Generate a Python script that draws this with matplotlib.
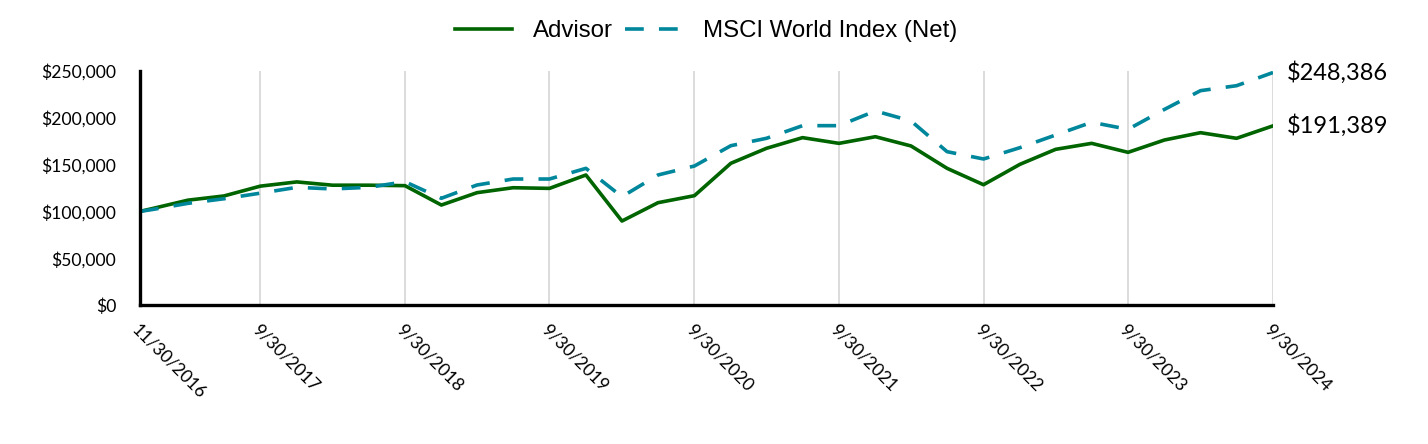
import matplotlib
matplotlib.use("Agg")
import matplotlib.pyplot as plt
import pandas as pd

# ---- data ----
start_date = "2016-11-30"
quarter_start = "2016-12-31"
quarter_end = "2024-09-30"
advisor = [100000, 103000, 112000, 116500, 127000, 131500, 128000, 128000, 127500,
           106800, 120000, 125300, 124600, 138900, 89700, 109300, 116800,
           151400, 167400, 178800, 172700, 179800, 169900, 146000, 128500,
           150300, 166300, 172700, 163100, 176300, 184100, 178100, 191389]
msci = [100000, 102000, 108600, 113500, 119500, 125700, 124000, 125700, 131700,
        114000, 128200, 134600, 134600, 146000, 115700, 138900, 148500,
        170200, 178100, 191600, 191600, 207300, 196600, 163800, 156000,
        168100, 181600, 195200, 187700, 209000, 229000, 234300, 248386]
series_names = ["Advisor", "MSCI World Index (Net)"]
tick_dates = ["2016-11-30", "2017-09-30", "2018-09-30", "2019-09-30", "2020-09-30",
              "2021-09-30", "2022-09-30", "2023-09-30", "2024-09-30"]
y_ticks = [0, 50000, 100000, 150000, 200000, 250000]

dates = [pd.Timestamp(start_date)] + list(pd.date_range(quarter_start, quarter_end, freq="QE"))
tdates = [pd.Timestamp(d) for d in tick_dates]

GREEN = "#006400"
TEAL = "#00879C"
TICK_FONT = ["Lato", "DejaVu Sans"]

fig = plt.figure(figsize=(14.28, 4.44), dpi=100)
ax = fig.add_axes([140 / 1428, 1 - 305 / 444, (1273 - 140) / 1428, (305 - 71) / 444])

l1, = ax.plot(dates, advisor, color=GREEN, lw=2.6, label=series_names[0], zorder=3)
l2, = ax.plot(dates, msci, color=TEAL, lw=2.6, dashes=(5.2, 4.2), label=series_names[1], zorder=3)

ax.set_xlim(dates[0], dates[-1])
ax.set_ylim(0, 250000)

ax.set_xticks(tdates)
ax.set_xticklabels([f"{d.month}/{d.day}/{d.year}" for d in tdates],
                   rotation=-45, ha="left", va="top", rotation_mode="anchor",
                   fontsize=12.6, family=TICK_FONT)
ax.set_yticks(y_ticks)
ax.set_yticklabels([f"${v:,.0f}" for v in y_ticks], fontsize=12.6, family=TICK_FONT)
ax.tick_params(axis="y", length=0, pad=17)
ax.tick_params(axis="x", length=0, pad=12)

ax.grid(axis="x", color="#D9D9D9", lw=1.3)
ax.grid(axis="y", visible=False)
ax.set_axisbelow(True)

for s in ["top", "right"]:
    ax.spines[s].set_visible(False)
for s in ["left", "bottom"]:
    ax.spines[s].set_linewidth(2.4)
    ax.spines[s].set_color("black")
    ax.spines[s].set_zorder(4)

for vals in (msci, advisor):
    ax.annotate(f"${vals[-1]:,.0f}", xy=(dates[-1], vals[-1]), xytext=(10, 0),
                textcoords="offset points", va="center", ha="left",
                fontsize=17, family=TICK_FONT, annotation_clip=False)

fig.legend(handles=[l1, l2], loc="center", bbox_to_anchor=(706 / 1428, 1 - 31 / 444),
           ncol=2, frameon=False, handlelength=2.4,
           handletextpad=0.85, columnspacing=0.5,
           prop={"family": ["Liberation Sans", "DejaVu Sans"], "size": 17.3})

fig.savefig("out.png", dpi=100)
